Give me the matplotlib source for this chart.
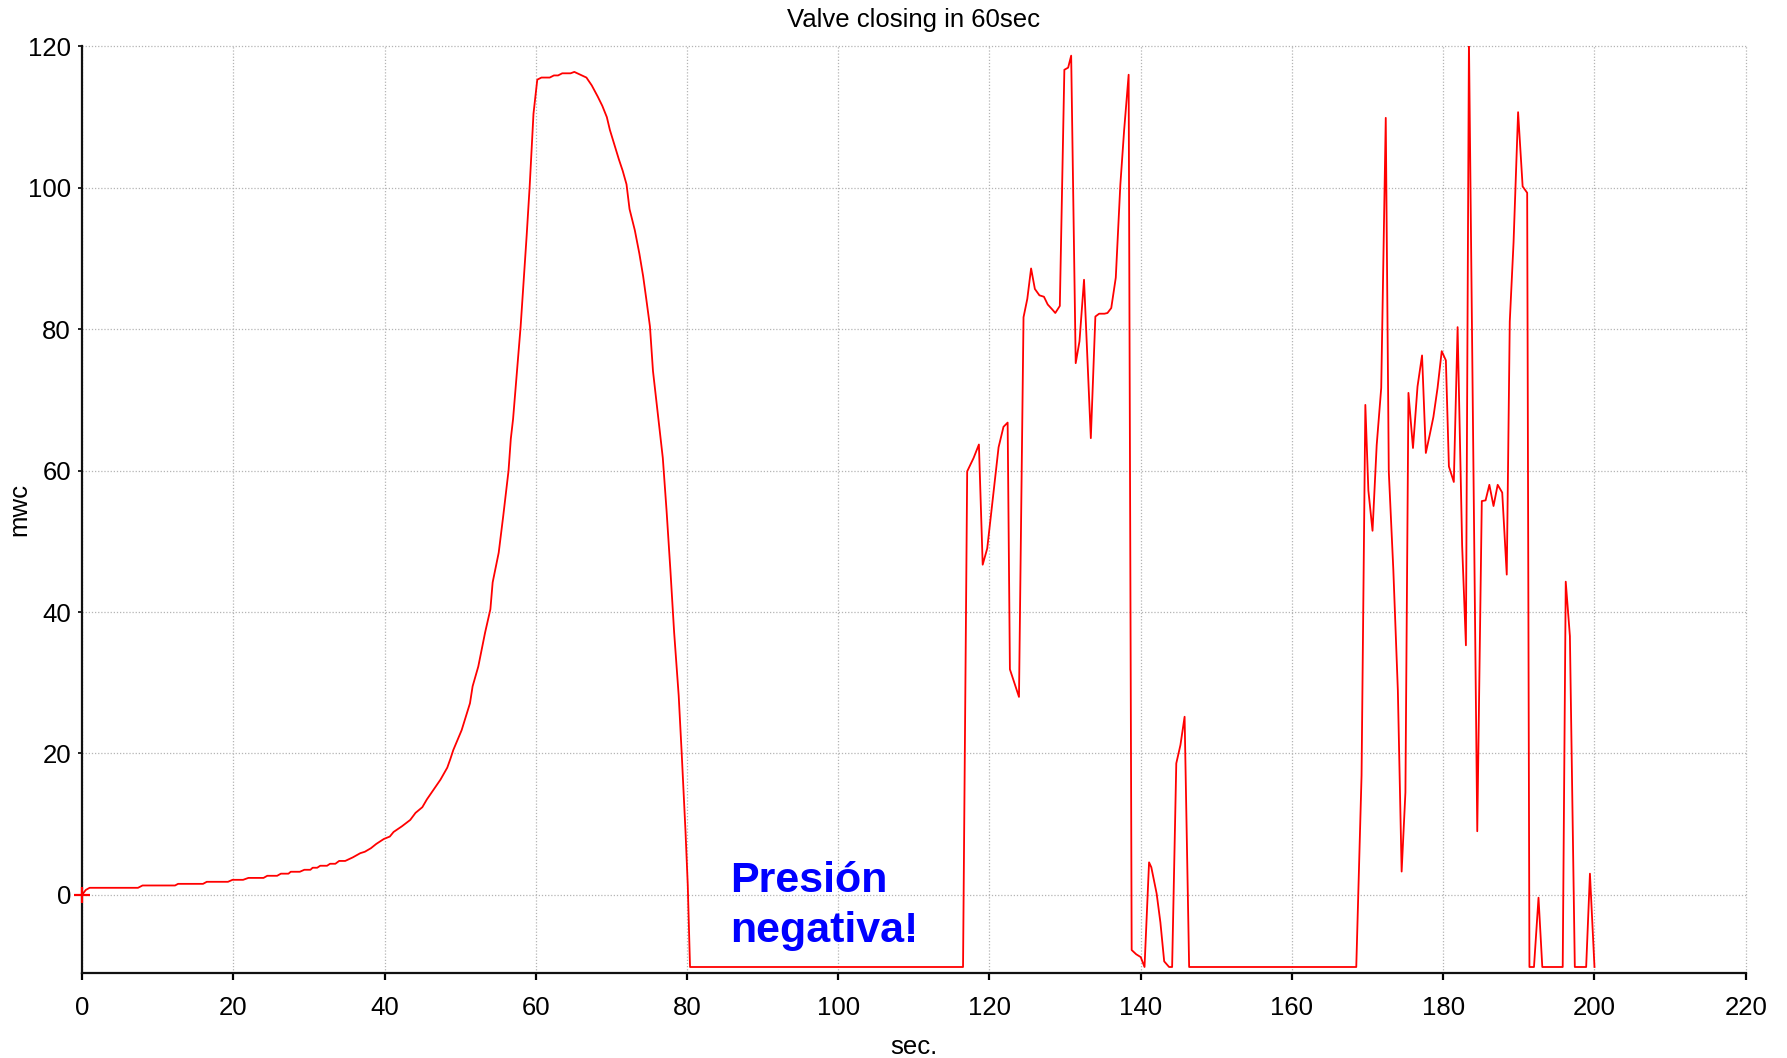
import matplotlib
matplotlib.use("Agg")
import matplotlib.pyplot as plt
import numpy as np

# tiempo (s) y presion (mwc)
t_rise = [0, 0.5, 1.0, 7.4, 8.0, 12.3, 12.7, 16.0, 16.5, 19.3, 19.9, 21.3, 22.0, 24.0,
          24.5, 25.8, 26.3, 27.3, 27.6, 28.8, 29.4, 30.2, 30.5, 31.1, 31.5, 32.4, 32.8,
          33.5, 34.0, 34.8, 35.8, 36.8, 37.4, 38.2, 38.9, 39.9, 40.7, 41.2, 42.3, 43.4,
          44.1, 45.0, 45.6, 46.5, 47.4, 48.3, 48.7, 49.1, 50.2, 51.3, 51.65, 52.4, 53.3,
          54.0, 54.3, 55.1, 55.7, 56.4, 56.7, 57.0, 58.0, 58.8, 59.2, 59.7, 60.2, 60.75,
          61.85, 62.4, 62.95, 63.5, 64.6, 65.1, 65.7, 66.7, 67.4, 68.2, 68.8, 69.4, 69.8,
          70.4, 71.0, 71.5, 72.0, 72.4, 73.1, 73.7, 74.2, 74.6, 75.1, 75.5, 76.3, 76.8,
          77.3, 77.8, 78.3, 78.9, 79.3, 79.8, 80.1, 80.4]
p_rise = [0, 0.7, 1.0, 1.0, 1.33, 1.33, 1.56, 1.56, 1.85, 1.85, 2.13, 2.13, 2.4, 2.4,
          2.7, 2.7, 3.0, 3.0, 3.27, 3.27, 3.55, 3.55, 3.84, 3.84, 4.12, 4.12, 4.4,
          4.4, 4.8, 4.8, 5.3, 5.9, 6.1, 6.6, 7.2, 7.9, 8.25, 8.9, 9.7, 10.6,
          11.6, 12.4, 13.5, 14.9, 16.3, 18.0, 19.2, 20.5, 23.3, 27.1, 29.5, 32.3, 37.1,
          40.4, 44.2, 48.4, 53.6, 60.0, 64.5, 67.3, 80.4, 93.3, 100.3, 110.5, 115.3, 115.6,
          115.6, 115.9, 115.9, 116.2, 116.2, 116.4, 116.1, 115.6, 114.5, 112.9, 111.6, 110.0, 108.2,
          106.1, 104.0, 102.4, 100.5, 97.0, 94.0, 90.7, 87.5, 84.4, 80.4, 74.1, 66.6, 61.8,
          54.3, 46.0, 37.1, 28.2, 20.0, 9.0, 1.4, -10.2]

t_mid = [116.5, 117.05, 117.9, 118.6, 119.1, 119.7, 121.2, 121.85, 122.4, 122.7, 123.4,
         123.9, 124.5, 125.0, 125.5, 126.0, 126.6, 127.2, 127.7, 128.3, 128.7, 129.3,
         129.9, 130.4, 130.8, 131.4, 131.9, 132.5, 133.4, 134.0, 134.5, 135.2, 135.6,
         136.1, 136.7, 137.3, 137.8, 138.4, 138.8, 139.4, 140.0, 140.5, 141.1, 141.4,
         142.1, 142.6, 143.1, 143.75, 144.15, 144.7, 145.25, 145.8, 146.4]
p_mid = [-10.2, 59.9, 61.8, 63.7, 46.7, 49.0, 63.3, 66.2, 66.8, 31.9, 29.6,
         28.0, 81.7, 84.3, 88.6, 85.7, 84.8, 84.6, 83.5, 82.8, 82.3, 83.3,
         116.7, 117.0, 118.7, 75.2, 78.3, 87.0, 64.6, 81.8, 82.2, 82.2, 82.3,
         83.0, 87.3, 100.4, 108.1, 116.0, -7.8, -8.4, -8.8, -10.2, 4.6, 3.9,
         0.2, -3.9, -9.4, -10.2, -10.2, 18.6, 21.2, 25.2, -10.2]

t_end = [168.5, 169.2, 169.7, 170.1, 170.65, 171.2, 171.8, 172.4, 172.8, 173.4, 174.0,
         174.5, 175.0, 175.4, 176.0, 176.6, 177.2, 177.7, 178.2, 178.7, 179.25, 179.8,
         180.35, 180.75, 181.4, 181.9, 182.5, 183.0, 183.4, 184.5, 185.1, 185.6, 186.1,
         186.65, 187.2, 187.8, 188.4, 188.8, 189.3, 189.9, 190.5, 191.1, 191.4, 192.0,
         192.6, 193.1, 195.8, 196.2, 196.75, 197.4, 198.9, 199.4, 200.0]
p_end = [-10.2, 16.9, 69.3, 57.2, 51.5, 63.6, 71.7, 109.9, 59.9, 46.0, 28.9,
         3.3, 14.5, 71.0, 63.2, 71.9, 76.3, 62.5, 65.0, 67.6, 71.7, 76.9,
         75.6, 60.6, 58.4, 80.3, 49.4, 35.3, 121.0, 9.0, 55.7, 55.8, 58.0,
         55.0, 58.0, 56.9, 45.3, 81.1, 92.3, 110.7, 100.2, 99.3, -10.2, -10.2,
         -0.4, -10.2, -10.2, 44.3, 36.6, -10.2, -10.2, 3.0, -10.2]

time_s = np.array(t_rise + t_mid + t_end)
pressure = np.array(p_rise + p_mid + p_end)

sans = ['Liberation Sans', 'DejaVu Sans']

fig = plt.figure(figsize=(17.87, 10.58), dpi=100)
ax = fig.add_axes([0.0459, 0.0800, 0.9310, 0.8761])

ax.plot(time_s, pressure, color='red', lw=1.3)
# cruz roja en el origen (primer punto), fuera del recorte
ax.plot(time_s[:1], pressure[:1], color='red', marker='+', markersize=11,
        markeredgewidth=1.6, ls='none', clip_on=False, zorder=5)

ax.set_xlim(0, 220)
ax.set_ylim(-11.1, 120)
ax.set_xticks(np.arange(0, 221, 20))
ax.set_yticks(np.arange(0, 121, 20))
ax.grid(True, color='#b4b4b4', linestyle=(0, (1, 1.5)), linewidth=0.9)
for gl in ax.get_xgridlines() + ax.get_ygridlines():
    gl.set_clip_on(False)

for s in ['top', 'right']:
    ax.spines[s].set_visible(False)
for s in ['left', 'bottom']:
    ax.spines[s].set_linewidth(1.6)
    ax.spines[s].set_color('#111111')

ax.tick_params(axis='x', direction='out', length=5, width=1.6, pad=11, labelsize=18.5)
ax.tick_params(axis='y', direction='out', length=3, width=1.2, pad=5, labelsize=18.5)
for lbl in ax.get_xticklabels() + ax.get_yticklabels():
    lbl.set_family(sans)

ax.set_title('Valve closing in 60sec', family=sans, fontsize=18.5, pad=14)
ax.set_xlabel('sec.', family=sans, fontsize=18.5)
ax.set_ylabel('mwc', family=sans, fontsize=18.5)
ax.xaxis.set_label_coords(0.5, -0.066)
ax.yaxis.set_label_coords(-0.0305, 0.5)

ax.text(85.7, -6.7, 'Presión\nnegativa!', color='#0000ff', fontsize=31,
        fontweight='bold', family=sans, ha='left', va='baseline', linespacing=1.32)

fig.savefig('out.png', dpi=100)
